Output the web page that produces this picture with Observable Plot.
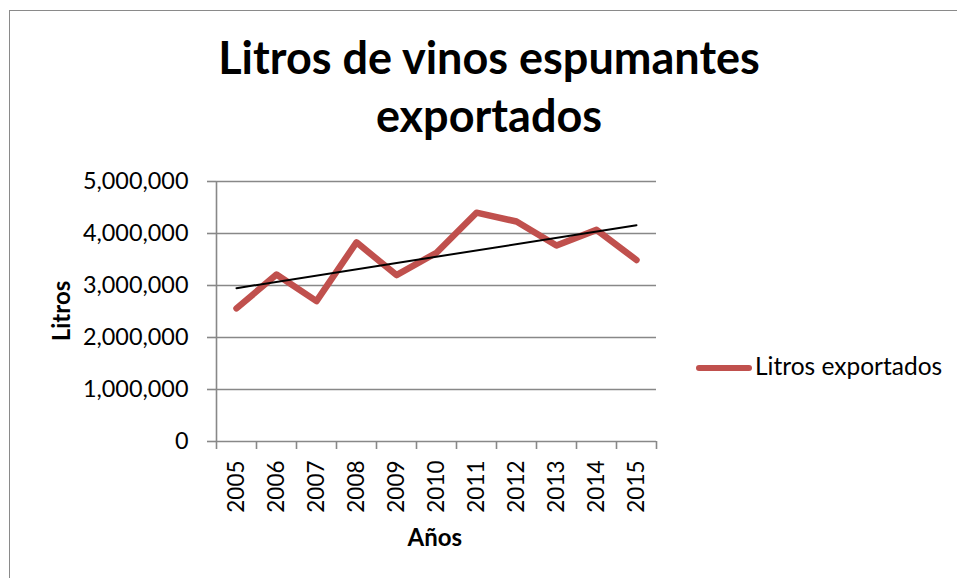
<!DOCTYPE html>
<html>
<head>
<meta charset="utf-8">
<script src="https://cdn.jsdelivr.net/npm/d3@7"></script>
<script src="https://cdn.jsdelivr.net/npm/@observablehq/plot@0.6"></script>
<style>
  html, body { margin: 0; padding: 0; background: #fff; }
  #wrap { position: relative; width: 957px; height: 578px; overflow: hidden; background: #fff; font-family: Lato, sans-serif; color: #000; }
  #frame { position: absolute; left: 9px; top: 10px; right: -5px; bottom: -5px; border-left: 1.5px solid #8a8a8a; border-top: 1.5px solid #8a8a8a; }
  #chart { position: absolute; left: 0; top: 0; }
  .t { position: absolute; white-space: nowrap; line-height: 1; }
  .title { font-weight: bold; font-size: 45px; left: 0; width: 978px; text-align: center; }
</style>
</head>
<body>
<div id="wrap">
  <div id="frame"></div>
  <div id="chart"></div>
  <div class="t title" id="t1">Litros de vinos espumantes</div>
  <div class="t title" id="t2">exportados</div>
  <div class="t" id="ylab" style="font-weight:bold;font-size:24px;">Litros</div>
  <div class="t" id="xlab" style="font-weight:bold;font-size:24px;">Años</div>
  <div id="legend" style="position:absolute;left:696px;top:368px;">
    <div style="position:absolute;left:0;top:-3px;width:56px;height:6px;border-radius:3px;background:#C0504D;"></div>
    <div class="t" id="legtext" style="font-size:24.5px;left:59px;">Litros exportados</div>
  </div>
</div>
<script>
const years = [2005, 2006, 2007, 2008, 2009, 2010, 2011, 2012, 2013, 2014, 2015];
const litros = [2560000, 3210000, 2700000, 3830000, 3200000, 3630000, 4400000, 4230000, 3770000, 4070000, 3490000];
const yTicks = [0, 1000000, 2000000, 3000000, 4000000, 5000000];
const seriesName = "Litros exportados";

const data = years.map((y, i) => ({year: y, value: litros[i]}));
const xDomain = [years[0] - 0.5, years[years.length - 1] + 0.5];
const boundaries = years.map(y => y - 0.5).concat([years[years.length - 1] + 0.5]);
const grey = "#888888";

const plot = Plot.plot({
  width: 957,
  height: 578,
  marginLeft: 216,
  marginRight: 301,
  marginTop: 181,
  marginBottom: 137,
  style: {fontFamily: "Lato, sans-serif", fontSize: "23.4px", color: "#000", background: "transparent", overflow: "visible"},
  x: {type: "linear", domain: xDomain},
  y: {domain: [0, 5000000]},
  marks: [
    Plot.ruleY(yTicks, {stroke: grey, strokeWidth: 1.6}),
    Plot.ruleX([xDomain[0]], {stroke: grey, strokeWidth: 1.6}),
    Plot.axisY({ticks: yTicks, tickSize: 9, tickPadding: 19, tickFormat: d3.format(","), stroke: grey, strokeWidth: 1.6, strokeOpacity: 1, label: null, fontSize: 23.4}),
    Plot.axisX({ticks: boundaries, tickSize: 8, tickFormat: () => "", stroke: grey, strokeWidth: 1.6, strokeOpacity: 1, label: null}),
    Plot.axisX({ticks: years, tickSize: 0, tickPadding: 19, tickRotate: -90, tickFormat: d => String(d), label: null, fontSize: 22.5}),
    Plot.line(data, {x: "year", y: "value", stroke: "#C0504D", strokeWidth: 6.5, strokeLinejoin: "round", strokeLinecap: "round"}),
    Plot.linearRegressionY(data, {x: "year", y: "value", stroke: "#000", strokeWidth: 2, ci: 0})
  ]
});
document.getElementById("chart").appendChild(plot);

// position text elements by baseline (Lato: ascent 0.987, descent 0.213; line-height 1 -> baseline at 0.887em)
function placeBaseline(id, baselineY, opts = {}) {
  const el = document.getElementById(id);
  const fs = parseFloat(getComputedStyle(el).fontSize);
  el.style.top = (baselineY - fs * 0.887) + "px";
  if (opts.centerX !== undefined) {
    el.style.left = (opts.centerX - el.offsetWidth / 2) + "px";
  }
}
placeBaseline("t1", 75);
placeBaseline("t2", 133);
placeBaseline("xlab", 546, {centerX: 435});
placeBaseline("legtext", 8);
const yl = document.getElementById("ylab");
yl.style.left = (61 - yl.offsetWidth / 2) + "px";
yl.style.top = (311 - yl.offsetHeight / 2) + "px";
yl.style.transform = "rotate(-90deg)";
</script>
</body>
</html>
